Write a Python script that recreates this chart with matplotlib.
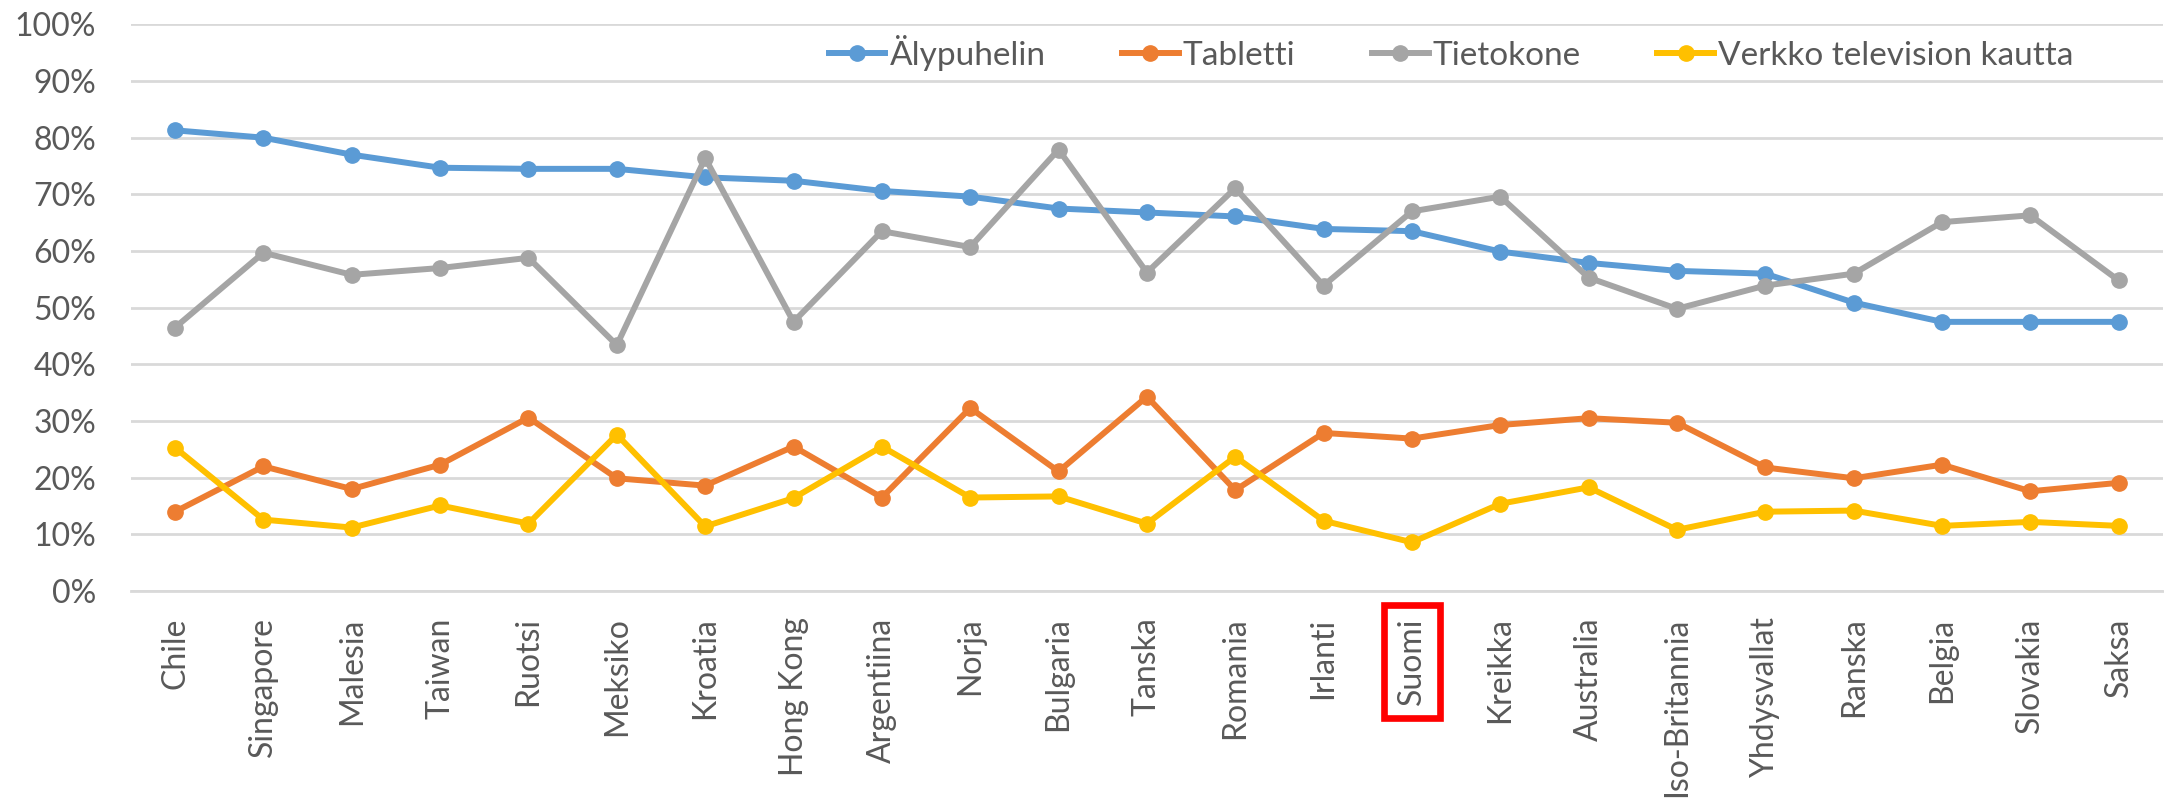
import matplotlib
matplotlib.use("Agg")
import matplotlib.pyplot as plt
from matplotlib.ticker import FuncFormatter, MultipleLocator

plt.rcParams['font.family'] = ['Lato', 'DejaVu Sans']

# Data (percent)
countries = ['Chile', 'Singapore', 'Malesia', 'Taiwan', 'Ruotsi', 'Meksiko', 'Kroatia',
             'Hong Kong', 'Argentiina', 'Norja', 'Bulgaria', 'Tanska', 'Romania', 'Irlanti',
             'Suomi', 'Kreikka', 'Australia', 'Iso-Britannia', 'Yhdysvallat', 'Ranska',
             'Belgia', 'Slovakia', 'Saksa']
alypuhelin = [81.3, 80.0, 77.0, 74.7, 74.5, 74.5, 73.0, 72.4, 70.6, 69.6, 67.5, 66.8,
              66.1, 63.9, 63.5, 59.9, 57.9, 56.5, 56.0, 50.9, 47.5, 47.5, 47.5]
tabletti = [14.0, 22.0, 18.0, 22.3, 30.6, 19.9, 18.6, 25.5, 16.5, 32.3, 21.1, 34.3,
            17.8, 27.9, 26.9, 29.3, 30.5, 29.7, 21.8, 19.9, 22.3, 17.6, 19.1]
tietokone = [46.5, 59.7, 55.8, 57.0, 58.8, 43.4, 76.4, 47.5, 63.5, 60.7, 77.9, 56.2,
             71.1, 53.9, 67.0, 69.6, 55.3, 49.8, 53.9, 56.0, 65.1, 66.3, 54.8]
verkko_tv = [25.3, 12.6, 11.2, 15.1, 11.9, 27.6, 11.4, 16.4, 25.5, 16.5, 16.7, 11.9,
             23.7, 12.4, 8.6, 15.4, 18.3, 10.8, 14.0, 14.2, 11.5, 12.2, 11.5]
highlight = 'Suomi'

series = [
    ('Älypuhelin', alypuhelin, '#5B9BD5'),
    ('Tabletti', tabletti, '#ED7D31'),
    ('Tietokone', tietokone, '#A5A5A5'),
    ('Verkko television kautta', verkko_tv, '#FFC000'),
]

text_color = '#595959'
fs = 23

fig = plt.figure(figsize=(21.64, 8.06), dpi=100)
ax = fig.add_axes([0.0605, 0.2667, 0.939, 0.7031])

x = list(range(len(countries)))
for name, vals, col in series:
    ax.plot(x, vals, color=col, lw=4.3, marker='o', markersize=11, label=name,
            solid_joinstyle='round', clip_on=False)

ax.set_xlim(-0.5, len(countries) - 0.5)
ax.set_ylim(0, 100)
ax.yaxis.set_major_locator(MultipleLocator(10))
ax.yaxis.set_major_formatter(FuncFormatter(lambda v, p: f'{v:.0f}%'))
ax.grid(axis='y', color='#D9D9D9', lw=2)
ax.set_axisbelow(True)
for s in ['top', 'right', 'left']:
    ax.spines[s].set_visible(False)
ax.spines['bottom'].set_color('#D9D9D9')
ax.spines['bottom'].set_linewidth(2)

ax.set_xticks(x)
ax.set_xticklabels(countries, rotation=90, fontsize=fs, color=text_color)
ax.tick_params(axis='x', length=0, pad=19)
ax.tick_params(axis='y', length=0, pad=25, labelsize=fs, labelcolor=text_color)

# red frame around highlighted country
for lab in ax.get_xticklabels():
    if lab.get_text() == highlight:
        lab.set_bbox(dict(boxstyle='square,pad=0.4', fc='none', ec='#FF0000', lw=4.8))

leg = ax.legend(loc='center right', bbox_to_anchor=(0.956, 0.95), ncol=4, frameon=False,
                fontsize=24, handlelength=1.7, handletextpad=0.12, columnspacing=2.3,
                borderaxespad=0, borderpad=0)
for t in leg.get_texts():
    t.set_color(text_color)

fig.savefig('out.png', dpi=100)
